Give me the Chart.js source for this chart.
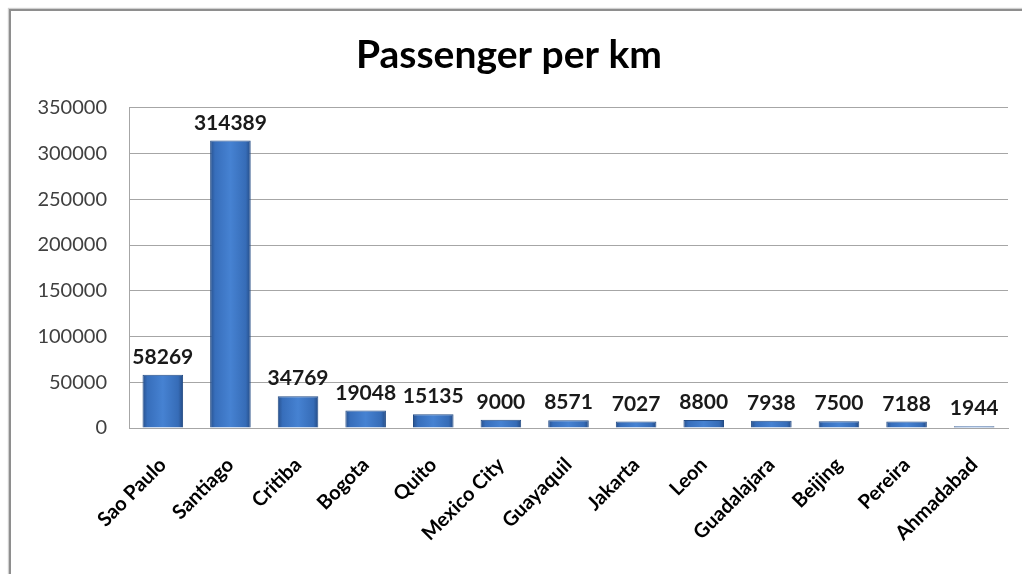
<!DOCTYPE html>
<html>
<head>
<meta charset="utf-8">
<title>Passenger per km</title>
<script src="https://cdn.jsdelivr.net/npm/chart.js@4.4.1/dist/chart.umd.min.js"></script>
<style>
  html, body { margin: 0; padding: 0; background: #fff; overflow: hidden; }
  #frame {
    position: absolute; left: 9px; top: 9px; width: 1040px; height: 600px;
    border-left: 2px solid #8e8e8e; border-top: 2px solid #8e8e8e;
    box-shadow: -1px -1px 1px #d0d0d0;
  }
  #wrap { position: absolute; left: 0; top: 0; width: 1022px; height: 574px; }
</style>
</head>
<body>
<div id="frame"></div>
<div id="wrap"><canvas id="passengerChart" width="1022" height="574"></canvas></div>
<script>
const cities = ["Sao Paulo", "Santiago", "Critiba", "Bogota", "Quito", "Mexico City",
  "Guayaquil", "Jakarta", "Leon", "Guadalajara", "Beijing", "Pereira", "Ahmadabad"];
const passengers = [58269, 314389, 34769, 19048, 15135, 9000, 8571, 7027, 8800, 7938, 7500, 7188, 1944];
const yTicks = [0, 50000, 100000, 150000, 200000, 250000, 300000, 350000];

const FONT = "Lato, 'Liberation Sans', sans-serif";
const BAR_PCT = 0.6;

// horizontal shading so each bar looks like a rounded column
function barGradient(context) {
  const chart = context.chart;
  const xScale = chart.scales.x;
  if (!xScale || context.dataIndex === undefined) return "#3f7acb";
  const cx = xScale.getPixelForValue(context.dataIndex);
  const half = (xScale.width / cities.length) * BAR_PCT / 2;
  if (!isFinite(cx) || !isFinite(half) || half <= 0) return "#3f7acb";
  const g = chart.ctx.createLinearGradient(cx - half, 0, cx + half, 0);
  g.addColorStop(0, "#28518d");
  g.addColorStop(0.12, "#376ebb");
  g.addColorStop(0.5, "#4682d2");
  g.addColorStop(0.88, "#366cb7");
  g.addColorStop(1, "#244b85");
  return g;
}

// value written above every bar
const valueLabels = {
  id: "valueLabels",
  afterDatasetsDraw(chart) {
    const ctx = chart.ctx;
    const meta = chart.getDatasetMeta(0);
    ctx.save();
    ctx.font = "bold 21px " + FONT;
    ctx.fillStyle = "#1a1a1a";
    ctx.textAlign = "center";
    ctx.textBaseline = "bottom";
    meta.data.forEach((bar, i) => {
      ctx.fillText(String(passengers[i]), bar.x, bar.y - 7);
    });
    ctx.restore();
  }
};

new Chart(document.getElementById("passengerChart"), {
  type: "bar",
  data: {
    labels: cities,
    datasets: [{
      data: passengers,
      backgroundColor: barGradient,
      borderColor: "#244c85",
      borderWidth: 1,
      barPercentage: BAR_PCT,
      categoryPercentage: 1
    }]
  },
  options: {
    responsive: false,
    animation: false,
    devicePixelRatio: 1,
    layout: { padding: { left: 10, right: 14, top: 0, bottom: 0 } },
    plugins: {
      legend: { display: false },
      tooltip: { enabled: false },
      title: {
        display: true,
        text: "Passenger per km",
        color: "#000",
        font: { family: FONT, size: 39, weight: "bold" },
        padding: { top: 32, bottom: 29 }
      }
    },
    scales: {
      x: {
        grid: { display: false, drawTicks: false },
        border: { display: true, color: "#a6a6a6", width: 1 },
        ticks: {
          color: "#000",
          font: { family: FONT, size: 20, weight: "bold" },
          minRotation: 45,
          maxRotation: 45,
          padding: 25,
          autoSkip: false
        },
        afterFit(scale) { scale.height = 146; }
      },
      y: {
        min: 0,
        max: 350000,
        afterBuildTicks(scale) { scale.ticks = yTicks.map(v => ({ value: v })); },
        grid: { color: "#a6a6a6", lineWidth: 1, drawTicks: false },
        border: { display: true, color: "#a6a6a6", width: 1 },
        ticks: {
          color: "#404040",
          font: { family: FONT, size: 20 },
          padding: 22,
          callback: v => String(v)
        },
        afterFit(scale) { scale.width = 119; }
      }
    }
  },
  plugins: [valueLabels]
});
</script>
</body>
</html>
